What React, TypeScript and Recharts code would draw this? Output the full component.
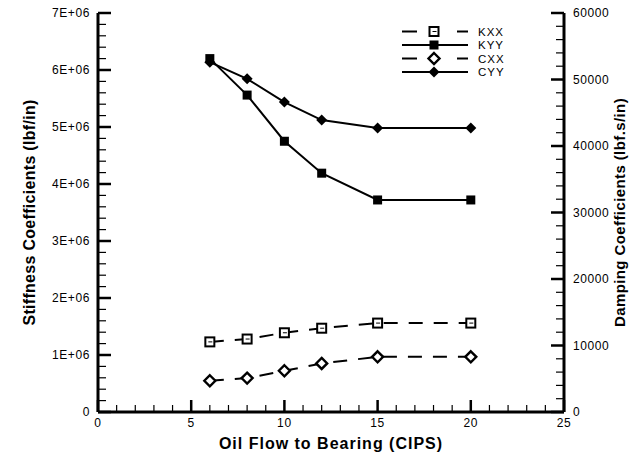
import { Line, LineChart, XAxis, YAxis } from "recharts";

const flow = [6, 8, 10, 12, 15, 20];
const kxx = [1.23e6, 1.28e6, 1.39e6, 1.47e6, 1.56e6, 1.56e6];
const kyy = [6.2e6, 5.56e6, 4.75e6, 4.19e6, 3.72e6, 3.72e6];
const cxx = [4700, 5100, 6200, 7300, 8300, 8300];
const cyy = [52600, 50100, 46600, 43900, 42700, 42700];

const xMajor = [0, 5, 10, 15, 20, 25];
const kMajor = [0, 1e6, 2e6, 3e6, 4e6, 5e6, 6e6, 7e6];
const cMajor = [0, 10000, 20000, 30000, 40000, 50000, 60000];

const legendItems = [
  { key: "KXX", dashed: true, marker: "square-open" },
  { key: "KYY", dashed: false, marker: "square" },
  { key: "CXX", dashed: true, marker: "diamond-open" },
  { key: "CYY", dashed: false, marker: "diamond" },
];

const W = 629;
const H = 456;
const FONT = "Arial, 'Liberation Sans', Helvetica, sans-serif";

const rows = flow.map((f, i) => ({ flow: f, KXX: kxx[i], KYY: kyy[i], CXX: cxx[i], CYY: cyy[i] }));

// major ticks with 4 minor ticks between each pair
const withMinors = (major: number[]) => {
  const out: number[] = [];
  major.forEach((v, i) => {
    out.push(v);
    if (i < major.length - 1) {
      const step = (major[i + 1] - v) / 5;
      for (let j = 1; j < 5; j++) out.push(v + step * j);
    }
  });
  return out;
};

const isMajor = (major: number[], v: number) => major.some((m) => Math.abs(m - v) < 1e-6);

const kLabel = (v: number) => (v === 0 ? "0" : `${Math.round(v / 1e6)}E+06`);

function XTick(props: any) {
  const { x, y, payload } = props;
  const major = isMajor(xMajor, payload.value);
  return (
    <g>
      <line x1={x} y1={y} x2={x} y2={y - (major ? 12 : 7)} stroke="#000" strokeWidth={major ? 2.5 : 1.2} />
      {major && (
        <text x={x} y={y + 11} textAnchor="middle" dominantBaseline="central" fontSize={12} letterSpacing={0.6} fill="#000" fontFamily={FONT}>
          {payload.value}
        </text>
      )}
    </g>
  );
}

function KTick(props: any) {
  const { x, y, payload } = props;
  const major = isMajor(kMajor, payload.value);
  return (
    <g>
      <line x1={x} y1={y} x2={x + (major ? 13 : 8)} y2={y} stroke="#000" strokeWidth={major ? 2.5 : 1.2} />
      {major && (
        <text x={x - 8} y={y} textAnchor="end" dominantBaseline="central" fontSize={12} letterSpacing={0.6} fill="#000" fontFamily={FONT}>
          {kLabel(payload.value)}
        </text>
      )}
    </g>
  );
}

function CTick(props: any) {
  const { x, y, payload } = props;
  const major = isMajor(cMajor, payload.value);
  return (
    <g>
      <line x1={x} y1={y} x2={x - (major ? 13 : 8)} y2={y} stroke="#000" strokeWidth={major ? 2.5 : 1.2} />
      {major && (
        <text x={x + 9} y={y} textAnchor="start" dominantBaseline="central" fontSize={12} letterSpacing={0.6} fill="#000" fontFamily={FONT}>
          {payload.value}
        </text>
      )}
    </g>
  );
}

function Marker({ kind, cx, cy }: { kind: string; cx: number; cy: number }) {
  if (kind === "square-open")
    return (
      <g>
        <rect x={cx - 4.5} y={cy - 4.5} width={9} height={9} fill="#fff" stroke="#000" strokeWidth={2} />
        <line x1={cx - 1.5} y1={cy} x2={cx + 2.5} y2={cy} stroke="#000" strokeWidth={1} />
      </g>
    );
  if (kind === "square") return <rect x={cx - 4.5} y={cy - 4.5} width={9} height={9} fill="#000" />;
  if (kind === "diamond-open")
    return (
      <path d={`M${cx},${cy - 5.5}L${cx + 5.5},${cy}L${cx},${cy + 5.5}L${cx - 5.5},${cy}Z`} fill="#fff" stroke="#000" strokeWidth={2.4} />
    );
  return <path d={`M${cx},${cy - 5.5}L${cx + 5.5},${cy}L${cx},${cy + 5.5}L${cx - 5.5},${cy}Z`} fill="#000" />;
}

const dotFor = (kind: string) => (p: any) => <Marker key={`${kind}-${p.index}`} kind={kind} cx={p.cx} cy={p.cy} />;

const legendRowsY = [31.5, 45, 58.5, 72];

export default function App() {
  return (
    <div style={{ position: "absolute", left: 0, top: 0, width: W, height: H, background: "#fff" }}>
      <LineChart width={W} height={H} data={rows} margin={{ top: 13, right: 0, bottom: 0, left: 0 }}>
        <XAxis
          dataKey="flow"
          type="number"
          domain={[0, 25]}
          ticks={withMinors(xMajor)}
          interval={0}
          height={44}
          tickSize={0}
          tickMargin={0}
          tick={<XTick />}
          tickLine={false}
          axisLine={{ stroke: "#000", strokeWidth: 3 }}
        />
        <YAxis
          yAxisId="k"
          type="number"
          domain={[0, 7e6]}
          ticks={withMinors(kMajor)}
          interval={0}
          width={98}
          tickSize={0}
          tickMargin={0}
          tick={<KTick />}
          tickLine={false}
          axisLine={{ stroke: "#000", strokeWidth: 3 }}
        />
        <YAxis
          yAxisId="c"
          orientation="right"
          type="number"
          domain={[0, 60000]}
          ticks={withMinors(cMajor)}
          interval={0}
          width={65}
          tickSize={0}
          tickMargin={0}
          tick={<CTick />}
          tickLine={false}
          axisLine={{ stroke: "#000", strokeWidth: 3 }}
        />
        <Line yAxisId="k" dataKey="KXX" stroke="#000" strokeWidth={2} strokeDasharray="14 11" dot={dotFor("square-open")} activeDot={false} isAnimationActive={false} />
        <Line yAxisId="k" dataKey="KYY" stroke="#000" strokeWidth={2} dot={dotFor("square")} activeDot={false} isAnimationActive={false} />
        <Line yAxisId="c" dataKey="CXX" stroke="#000" strokeWidth={2} strokeDasharray="14 11" dot={dotFor("diamond-open")} activeDot={false} isAnimationActive={false} />
        <Line yAxisId="c" dataKey="CYY" stroke="#000" strokeWidth={2} dot={dotFor("diamond")} activeDot={false} isAnimationActive={false} />
      </LineChart>

      <svg width={W} height={H} style={{ position: "absolute", left: 0, top: 0, pointerEvents: "none" }} fontFamily={FONT}>
        {legendItems.map((it, i) => {
          const y = legendRowsY[i];
          return (
            <g key={it.key}>
              {it.dashed ? (
                <>
                  <line x1={402} y1={y} x2={417} y2={y} stroke="#000" strokeWidth={2} />
                  <line x1={457} y1={y} x2={468} y2={y} stroke="#000" strokeWidth={2} />
                </>
              ) : (
                <line x1={402} y1={y} x2={468} y2={y} stroke="#000" strokeWidth={2} />
              )}
              <Marker kind={it.marker} cx={434} cy={y} />
              <text x={478} y={y} dominantBaseline="central" fontSize={11.5} letterSpacing={1} fill="#000">
                {it.key}
              </text>
            </g>
          );
        })}
        <text x={331} y={449} textAnchor="middle" fontSize={16} fontWeight="bold" letterSpacing={1} fill="#000">
          Oil Flow to Bearing (CIPS)
        </text>
        <text transform="translate(35,212.5) rotate(-90)" textAnchor="middle" fontSize={16} fontWeight="bold" letterSpacing={0.3} fill="#000">
          Stiffness Coefficients (lbf/in)
        </text>
        <text transform="translate(625,212.5) rotate(-90)" textAnchor="middle" fontSize={15} fontWeight="bold" letterSpacing={0.4} fill="#000">
          Damping Coefficients (lbf.s/in)
        </text>
      </svg>
    </div>
  );
}
